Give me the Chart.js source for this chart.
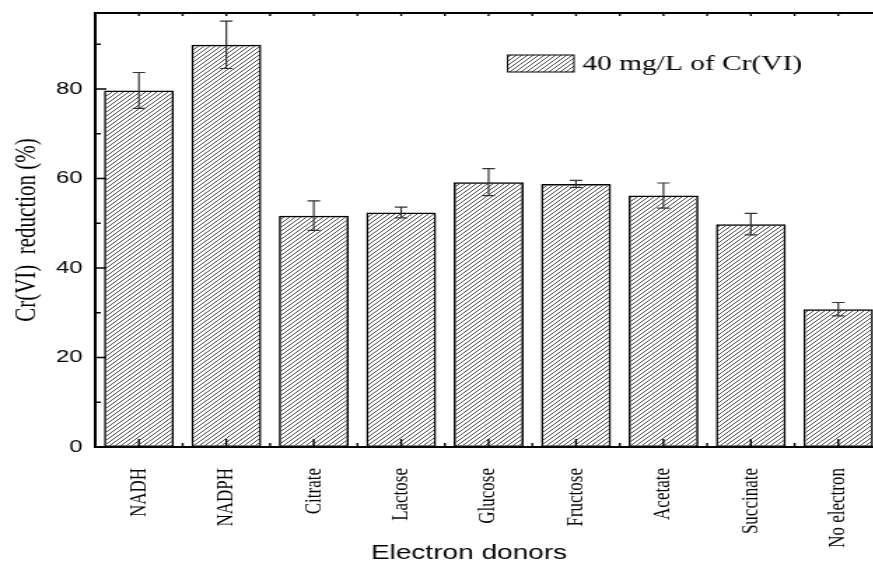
<!DOCTYPE html>
<html>
<head>
<meta charset="utf-8">
<script src="https://cdn.jsdelivr.net/npm/chart.js@4.4.0/dist/chart.umd.min.js"></script>
<style>
  html, body { margin: 0; padding: 0; background: #fff; overflow: hidden; width: 873px; height: 563px; }
  /* the figure is drawn narrow and stretched sideways */
  #wrap { transform: scaleX(1.4); transform-origin: 0 0; width: 670px; height: 563px; }
</style>
</head>
<body>
<div id="wrap"><canvas id="barChart" width="670" height="563"></canvas></div>
<script>
const donors = ["NADH", "NADPH", "Citrate", "Lactose", "Glucose", "Fructose", "Acetate", "Succinate", "No electron"];
const reduction = [79.7, 89.9, 51.7, 52.4, 59.2, 58.8, 56.2, 49.8, 30.8];
const reductionErr = [4.0, 5.3, 3.3, 1.2, 3.0, 0.8, 2.8, 2.4, 1.5];
const yTicks = [0, 20, 40, 60, 80];
const yMinorTicks = [10, 30, 50, 70, 90];
const seriesLabel = "40 mg/L of Cr(VI)";
const xTitle = "Electron donors";

const canvas = document.getElementById("barChart");
const ctx = canvas.getContext("2d");

// diagonal hatch fill
function makeHatch() {
    const tile = document.createElement("canvas");
    tile.width = 4;
    tile.height = 4;
    const g = tile.getContext("2d");
    g.strokeStyle = "#222";
    g.lineWidth = 0.8;
    g.beginPath();
    g.moveTo(0, 4); g.lineTo(4, 0);
    g.moveTo(-1, 1); g.lineTo(1, -1);
    g.moveTo(3, 5); g.lineTo(5, 3);
    g.stroke();
    return ctx.createPattern(tile, "repeat");
}
const hatch = makeHatch();

// frame, inward ticks and error bars
const framePlugin = {
    id: "frame",
    afterDatasetsDraw(chart) {
        const { ctx, chartArea, scales } = chart;
        const x = scales.x, y = scales.y;
        const meta = chart.getDatasetMeta(0);
        ctx.save();
        ctx.strokeStyle = "#000";

        // top border
        ctx.lineWidth = 2;
        ctx.beginPath();
        ctx.moveTo(chartArea.left, chartArea.top);
        ctx.lineTo(chartArea.right, chartArea.top);
        ctx.stroke();

        // y ticks
        ctx.lineWidth = 1.6;
        ctx.beginPath();
        yTicks.forEach(v => {
            const py = y.getPixelForValue(v);
            ctx.moveTo(chartArea.left, py);
            ctx.lineTo(chartArea.left + 8, py);
        });
        yMinorTicks.forEach(v => {
            const py = y.getPixelForValue(v);
            ctx.moveTo(chartArea.left, py);
            ctx.lineTo(chartArea.left + 4, py);
        });
        ctx.stroke();

        // x ticks at centres and between categories
        ctx.lineWidth = 1.4;
        ctx.beginPath();
        donors.forEach((d, i) => {
            const px = x.getPixelForValue(i);
            ctx.moveTo(px, chartArea.bottom);
            ctx.lineTo(px, chartArea.bottom - 8);
            ctx.moveTo(px, chartArea.top);
            ctx.lineTo(px, chartArea.top + 3);
            if (i > 0) {
                const bx = (px + x.getPixelForValue(i - 1)) / 2;
                ctx.moveTo(bx, chartArea.bottom);
                ctx.lineTo(bx, chartArea.bottom - 4);
                ctx.moveTo(bx, chartArea.top);
                ctx.lineTo(bx, chartArea.top + 3);
            }
        });
        ctx.stroke();

        // error bars
        ctx.strokeStyle = "#333";
        ctx.lineWidth = 1.2;
        ctx.beginPath();
        meta.data.forEach((bar, i) => {
            const hi = y.getPixelForValue(reduction[i] + reductionErr[i]);
            const lo = y.getPixelForValue(reduction[i] - reductionErr[i]);
            ctx.moveTo(bar.x, hi);
            ctx.lineTo(bar.x, lo);
            ctx.moveTo(bar.x - 4.5, hi);
            ctx.lineTo(bar.x + 4.5, hi);
            ctx.moveTo(bar.x - 4.5, lo);
            ctx.lineTo(bar.x + 4.5, lo);
        });
        ctx.stroke();
        ctx.restore();
    }
};

// legend box inside the plot and the x axis caption
const labelsPlugin = {
    id: "figureLabels",
    afterDraw(chart) {
        const { ctx } = chart;
        ctx.save();
        ctx.fillStyle = hatch;
        ctx.fillRect(362.6, 55, 47.4, 17);
        ctx.strokeStyle = "#000";
        ctx.lineWidth = 1;
        ctx.strokeRect(362.6, 55, 47.4, 17);
        ctx.fillStyle = "#000";
        ctx.font = "21px 'Liberation Serif'";
        ctx.textBaseline = "middle";
        ctx.textAlign = "left";
        ctx.fillText(seriesLabel, 416, 64);

        ctx.font = "20px 'Liberation Sans'";
        ctx.textAlign = "center";
        ctx.textBaseline = "alphabetic";
        ctx.fillText(xTitle, 335, 559);
        ctx.restore();
    }
};

new Chart(canvas, {
    type: "bar",
    data: {
        labels: donors,
        datasets: [{
            label: seriesLabel,
            data: reduction,
            backgroundColor: hatch,
            borderColor: "#000",
            borderWidth: 1.5,
            borderSkipped: false,
            barPercentage: 0.8,
            categoryPercentage: 1.0
        }]
    },
    options: {
        responsive: false,
        animation: false,
        devicePixelRatio: 1,
        layout: { padding: { left: 0, top: 13, right: 40, bottom: 0 } },
        plugins: {
            legend: { display: false },
            tooltip: { enabled: false }
        },
        scales: {
            x: {
                grid: { display: false, drawTicks: false },
                border: { display: true, color: "#000", width: 2 },
                ticks: {
                    autoSkip: false,
                    minRotation: 90,
                    maxRotation: 90,
                    padding: 21,
                    color: "#000",
                    font: { family: "'Liberation Serif'", size: 17 }
                },
                afterFit(scale) { scale.height = 116; }
            },
            y: {
                min: 0,
                max: 97,
                grid: { display: false, drawTicks: false },
                border: { display: true, color: "#000", width: 2 },
                ticks: {
                    padding: 9,
                    color: "#000",
                    font: { family: "'Liberation Sans'", size: 17 }
                },
                afterBuildTicks(scale) {
                    scale.ticks = yTicks.map(v => ({ value: v }));
                },
                title: {
                    display: true,
                    text: "Cr(VI)  reduction (%)",
                    color: "#000",
                    padding: { top: 7, bottom: 0 },
                    font: { family: "'Liberation Serif'", size: 21 }
                },
                afterFit(scale) {
                    scale.width = 68;
                    scale.paddingTop = 0;
                    scale.paddingBottom = 0;
                }
            }
        }
    },
    plugins: [framePlugin, labelsPlugin]
});
</script>
</body>
</html>
